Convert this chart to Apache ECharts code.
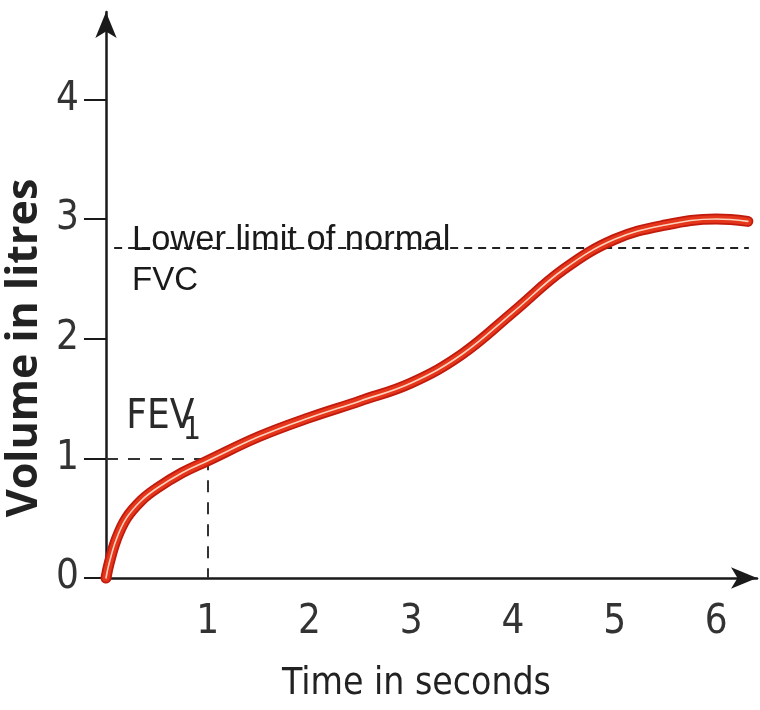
<!DOCTYPE html>
<html>
<head>
<meta charset="utf-8">
<script src="https://cdn.jsdelivr.net/npm/echarts@6/dist/echarts.min.js"></script>
<style>
html,body{margin:0;padding:0;background:#fff;}
#c{width:760px;height:710px;}
</style>
</head>
<body>
<div id="c"></div>
<script>
// ---- data ----
const timeSeconds = [0, 0.03, 0.1, 0.2, 0.35, 0.5, 0.75, 1.0, 1.5, 2.0, 2.5, 3.0, 3.5, 4.0, 4.5, 5.0, 5.5, 6.0, 6.31];
const volumeLitres = [0, 0.12, 0.32, 0.50, 0.65, 0.75, 0.88, 0.98, 1.18, 1.34, 1.48, 1.63, 1.87, 2.22, 2.58, 2.83, 2.95, 3.0, 2.98];
const xTickLabels = [1, 2, 3, 4, 5, 6];
const yTickLabels = [0, 1, 2, 3, 4];
const fvcLowerLimit = 2.76;
const fvcLineRange = [0.08, 6.32];
const fev1Time = 1;
const fev1Volume = 1;
const xAxisTitle = 'Time in seconds';
const yAxisTitle = 'Volume in litres';
const fvcLabel1 = 'Lower limit of normal';
const fvcLabel2 = 'FVC';

const curve = timeSeconds.map((t, i) => [t, volumeLitres[i]]);
const narrow = '"Liberation Sans Narrow", "DejaVu Sans Condensed", "Liberation Sans", sans-serif';

const chart = echarts.init(document.getElementById('c'), null, {renderer: 'canvas'});
const lineBase = {type: 'line', data: curve, smooth: 0.4, symbol: 'none', clip: false, silent: true, z: 5};
chart.setOption({
  backgroundColor: '#ffffff',
  animation: false,
  grid: {left: 106, right: 3, top: 12, bottom: 132, containLabel: false, outerBoundsMode: 'none'},
  xAxis: {
    type: 'value', min: 0, max: 6.4,
    axisLine: {show: true, symbol: ['none', 'arrow'], symbolSize: [16, 26], lineStyle: {color: '#1a1a1a', width: 2.5}},
    axisTick: {show: false},
    splitLine: {show: false},
    axisLabel: {customValues: xTickLabels, color: '#333', fontFamily: narrow, fontSize: 40, margin: 25},
    name: xAxisTitle, nameLocation: 'middle', nameGap: 88,
    nameTextStyle: {color: '#222', fontFamily: narrow, fontSize: 37, padding: [0, 30, 0, 0]}
  },
  yAxis: {
    type: 'value', min: 0, max: 4.73,
    axisLine: {show: true, symbol: ['none', 'arrow'], symbolSize: [16, 26], lineStyle: {color: '#1a1a1a', width: 2.5}},
    axisTick: {show: true, customValues: yTickLabels, length: 22, lineStyle: {color: '#1a1a1a', width: 2}},
    splitLine: {show: false},
    axisLabel: {customValues: yTickLabels, color: '#333', fontFamily: narrow, fontSize: 40, margin: 27},
    name: yAxisTitle, nameLocation: 'middle', nameGap: 60, nameRotate: 90, nameMoveOverlap: false,
    nameTextStyle: {color: '#222', fontFamily: '"Open Sans", sans-serif', fontWeight: 'bold', fontSize: 43, padding: [0, 106, 0, 0]}
  },
  series: [
    Object.assign({}, lineBase, {
      lineStyle: {color: '#c01a0c', width: 11, cap: 'round', join: 'round'},
      markLine: {
        silent: true, symbol: 'none', animation: false,
        label: {show: false},
        data: [
          [{coord: [fvcLineRange[0], fvcLowerLimit]}, {coord: [fvcLineRange[1], fvcLowerLimit], lineStyle: {type: [8, 6], color: '#222', width: 2}}],
          [{coord: [0, fev1Volume]}, {coord: [fev1Time, fev1Volume], lineStyle: {type: [12, 10], color: '#333', width: 2}}],
          [{coord: [fev1Time, fev1Volume]}, {coord: [fev1Time, 0], lineStyle: {type: [12, 10], color: '#333', width: 2}}]
        ]
      }
    }),
    Object.assign({}, lineBase, {z: 6, lineStyle: {color: '#e5361c', width: 7.5, cap: 'round', join: 'round'}}),
    Object.assign({}, lineBase, {z: 7, lineStyle: {color: '#fbd3bd', width: 1.6, cap: 'round', join: 'round'}})
  ]
});

function px(x, y) { return chart.convertToPixel({xAxisIndex: 0, yAxisIndex: 0}, [x, y]); }
const pLower = px(0.256, 2.82);
const pFvc = px(0.256, 2.48);
const pFev = px(0.2, 1.34);
const pSub = px(0.755, 1.23);
chart.setOption({
  graphic: [
    {type: 'text', x: pLower[0], y: pLower[1], z: 10, style: {text: fvcLabel1, font: '34.5px "Liberation Sans", Arial, sans-serif', fill: '#1a1a1a', textVerticalAlign: 'middle'}},
    {type: 'text', x: pFvc[0], y: pFvc[1], z: 10, style: {text: fvcLabel2, font: '33px "Liberation Sans", Arial, sans-serif', fill: '#1a1a1a', textVerticalAlign: 'middle'}},
    {type: 'text', x: pFev[0], y: pFev[1], z: 10, style: {text: 'FEV', font: '40px ' + narrow, fill: '#2a2a2a', textVerticalAlign: 'middle'}},
    {type: 'text', x: pSub[0], y: pSub[1], z: 10, style: {text: '1', font: '32px ' + narrow, fill: '#2a2a2a', textVerticalAlign: 'middle'}}
  ]
});
</script>
</body>
</html>
